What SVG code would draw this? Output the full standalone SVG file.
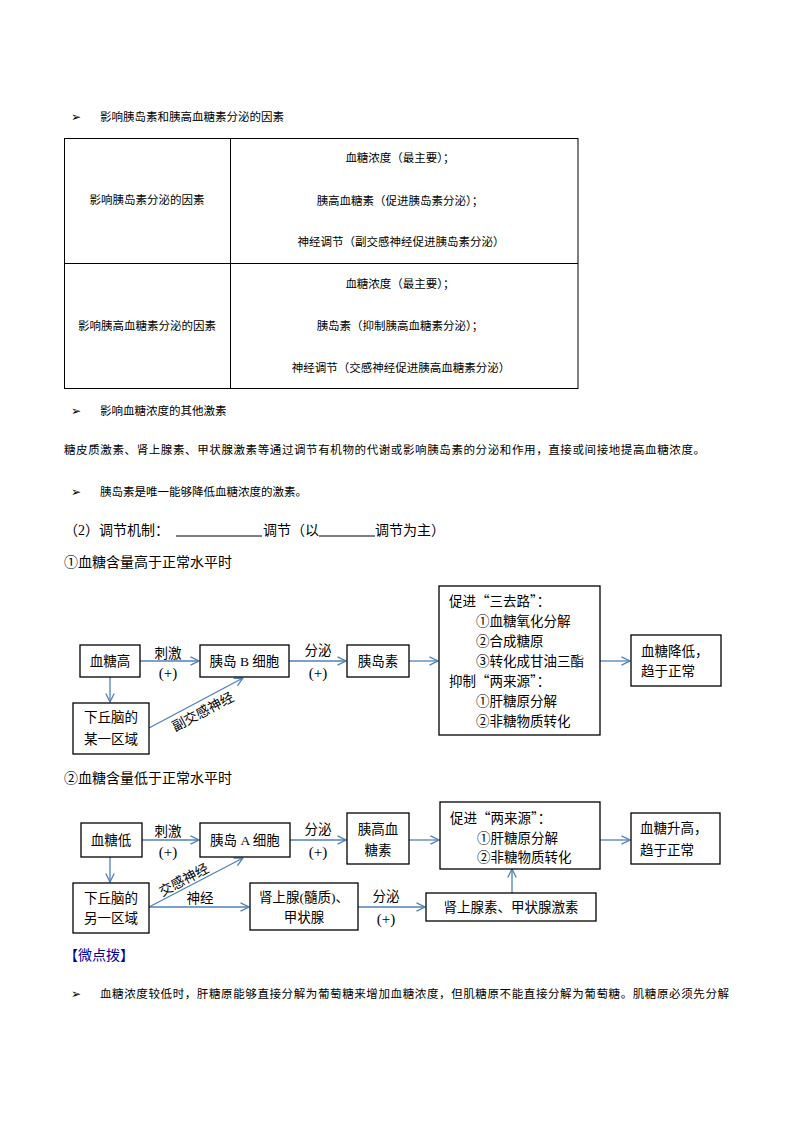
<svg xmlns="http://www.w3.org/2000/svg" width="794" height="1123" viewBox="0 0 794 1123">
<style>
.sm{font-family:"Noto Sans CJK SC","Liberation Sans",sans-serif;font-size:11.5px;fill:#000}
.bl{font-family:"DejaVu Sans",sans-serif;font-size:12px;font-weight:bold;fill:#000}
.md{font-family:"Liberation Serif","Noto Sans CJK SC",serif;font-size:14px;fill:#000}
.dg{font-family:"Liberation Serif","Noto Sans CJK SC",serif;font-size:13.5px;fill:#000}
.pl{font-family:"Liberation Serif",serif;font-size:15px;fill:#000}
.q{font-family:"Noto Sans CJK SC",sans-serif}
.c{text-anchor:middle}
.box{fill:#fff;stroke:#000;stroke-width:1.3}
.tb{fill:none;stroke:#000;stroke-width:1}
.ar{fill:none;stroke:#4F81BD;stroke-width:1.3;marker-end:url(#ah)}
</style>
<defs>
<marker id="ah" viewBox="0 0 10 10" refX="9.5" refY="5" markerWidth="10" markerHeight="10" orient="auto" markerUnits="userSpaceOnUse">
<path d="M1,0.8 L9.5,5 L1,9.2" fill="none" stroke="#4F81BD" stroke-width="1.3"/>
</marker>
</defs>
<rect width="794" height="1123" fill="#fff"/>

<!-- heading 1 -->
<text class="bl" x="71" y="121">➢</text>
<text class="sm" x="100" y="121">影响胰岛素和胰高血糖素分泌的因素</text>

<!-- table -->
<g id="table">
<rect class="tb" x="64.5" y="138.5" width="513.5" height="250"/>
<line class="tb" x1="64.5" y1="263.5" x2="578" y2="263.5"/>
<line class="tb" x1="230.5" y1="138.5" x2="230.5" y2="388.5"/>
<text class="sm c" x="147" y="204">影响胰岛素分泌的因素</text>
<text class="sm c" x="400" y="162">血糖浓度（最主要）；</text>
<text class="sm c" x="400" y="205">胰高血糖素（促进胰岛素分泌）；</text>
<text class="sm c" x="401" y="246">神经调节（副交感神经促进胰岛素分泌）</text>
<text class="sm c" x="147" y="330">影响胰高血糖素分泌的因素</text>
<text class="sm c" x="400" y="288">血糖浓度（最主要）；</text>
<text class="sm c" x="400" y="330">胰岛素（抑制胰高血糖素分泌）；</text>
<text class="sm c" x="401" y="372">神经调节（交感神经促进胰高血糖素分泌）</text>
</g>

<text class="bl" x="71" y="415">➢</text>
<text class="sm" x="100" y="415">影响血糖浓度的其他激素</text>
<text class="sm" x="64" y="454" textLength="641" lengthAdjust="spacing">糖皮质激素、肾上腺素、甲状腺激素等通过调节有机物的代谢或影响胰岛素的分泌和作用，直接或间接地提高血糖浓度。</text>
<text class="bl" x="71" y="496">➢</text>
<text class="sm" x="100" y="496">胰岛素是唯一能够降低血糖浓度的激素。</text>

<text class="md" x="64" y="535">（2）调节机制：</text>
<line x1="176" y1="536" x2="262" y2="536" stroke="#000" stroke-width="1"/>
<text class="md" x="263" y="535">调节（以</text>
<line x1="319" y1="536" x2="375" y2="536" stroke="#000" stroke-width="1"/>
<text class="md" x="375" y="535">调节为主）</text>
<text class="md" x="64" y="567">①血糖含量高于正常水平时</text>

<!-- diagram 1 connectors -->
<g id="connectors1">
<line class="ar" x1="140" y1="661" x2="199" y2="661"/>
<line class="ar" x1="289" y1="661" x2="346" y2="661"/>
<line class="ar" x1="409" y1="661" x2="438" y2="661"/>
<line class="ar" x1="600" y1="661" x2="630" y2="661"/>
<line class="ar" x1="110" y1="677" x2="110" y2="702"/>
<line class="ar" x1="149" y1="728" x2="243" y2="678"/>
<text class="dg c" x="168" y="658">刺激</text>
<text class="pl c" x="168" y="678">(+)</text>
<text class="dg c" x="318" y="655">分泌</text>
<text class="pl c" x="318" y="678">(+)</text>
<text class="dg c" transform="translate(205,716) rotate(-28)">副交感神经</text>
</g>

<g id="n-gaoxuetang">
<rect class="box" x="80" y="645" width="60" height="32"/>
<text class="dg c" x="110" y="666">血糖高</text>
</g>
<g id="n-xiaqiunao1">
<rect class="box" x="73" y="703" width="76" height="51"/>
<text class="dg c" x="111" y="722">下丘脑的</text>
<text class="dg c" x="111" y="744">某一区域</text>
</g>
<g id="n-bcell">
<rect class="box" x="200" y="645" width="89" height="32"/>
<text class="dg c" x="244.5" y="666">胰岛 B 细胞</text>
</g>
<g id="n-insulin">
<rect class="box" x="347" y="645" width="62" height="32"/>
<text class="dg c" x="378" y="666">胰岛素</text>
</g>
<g id="n-effect1">
<rect class="box" x="439" y="586" width="161" height="149"/>
<text class="dg" x="449" y="606">促进<tspan class="q">“</tspan>三去路<tspan class="q">”</tspan>：</text>
<text class="dg" x="476" y="626">①血糖氧化分解</text>
<text class="dg" x="476" y="646">②合成糖原</text>
<text class="dg" x="476" y="666">③转化成甘油三酯</text>
<text class="dg" x="449" y="686">抑制<tspan class="q">“</tspan>两来源<tspan class="q">”</tspan>：</text>
<text class="dg" x="476" y="706">①肝糖原分解</text>
<text class="dg" x="476" y="726">②非糖物质转化</text>
</g>
<g id="n-result1">
<rect class="box" x="631" y="635" width="90" height="51"/>
<text class="dg" x="641" y="656">血糖降低，</text>
<text class="dg" x="641" y="676">趋于正常</text>
</g>

<text class="md" x="64" y="783">②血糖含量低于正常水平时</text>

<!-- diagram 2 connectors -->
<g id="connectors2">
<line class="ar" x1="142" y1="840" x2="199" y2="840"/>
<line class="ar" x1="290" y1="840" x2="346" y2="840"/>
<line class="ar" x1="409" y1="840" x2="439" y2="840"/>
<line class="ar" x1="600" y1="840" x2="630" y2="840"/>
<line class="ar" x1="110" y1="857" x2="110" y2="882"/>
<line class="ar" x1="149" y1="907" x2="243" y2="858"/>
<line class="ar" x1="149" y1="907" x2="249" y2="907"/>
<line class="ar" x1="358" y1="907" x2="425" y2="907"/>
<line class="ar" x1="512" y1="893" x2="512" y2="869"/>
<text class="dg c" x="168" y="836">刺激</text>
<text class="pl c" x="168" y="857">(+)</text>
<text class="dg c" x="318" y="834">分泌</text>
<text class="pl c" x="318" y="857">(+)</text>
<text class="dg c" transform="translate(186,884) rotate(-28)">交感神经</text>
<text class="dg c" x="200" y="903">神经</text>
<text class="dg c" x="386" y="901">分泌</text>
<text class="pl c" x="386" y="924">(+)</text>
</g>

<g id="n-dixuetang">
<rect class="box" x="81" y="823" width="61" height="34"/>
<text class="dg c" x="111" y="845">血糖低</text>
</g>
<g id="n-xiaqiunao2">
<rect class="box" x="73" y="883" width="76" height="50"/>
<text class="dg c" x="111" y="903">下丘脑的</text>
<text class="dg c" x="111" y="923">另一区域</text>
</g>
<g id="n-acell">
<rect class="box" x="200" y="823" width="90" height="34"/>
<text class="dg c" x="245" y="845">胰岛 A 细胞</text>
</g>
<g id="n-glucagon">
<rect class="box" x="347" y="813" width="62" height="51"/>
<text class="dg c" x="378" y="834">胰高血</text>
<text class="dg c" x="378" y="855">糖素</text>
</g>
<g id="n-adrenal">
<rect class="box" x="250" y="883" width="108" height="47"/>
<text class="dg c" x="304" y="902">肾上腺(髓质)、</text>
<text class="dg c" x="304" y="922">甲状腺</text>
</g>
<g id="n-hormones">
<rect class="box" x="426" y="893" width="170" height="28"/>
<text class="dg c" x="511" y="912">肾上腺素、甲状腺激素</text>
</g>
<g id="n-effect2">
<rect class="box" x="440" y="802" width="160" height="67"/>
<text class="dg" x="450" y="823">促进<tspan class="q">“</tspan>两来源<tspan class="q">”</tspan>：</text>
<text class="dg" x="477" y="843">①肝糖原分解</text>
<text class="dg" x="477" y="862">②非糖物质转化</text>
</g>
<g id="n-result2">
<rect class="box" x="631" y="813" width="89" height="51"/>
<text class="dg" x="640" y="833">血糖升高，</text>
<text class="dg" x="640" y="855">趋于正常</text>
</g>

<text class="md" x="64" y="960" style="fill:#0000a0">【微点拨】</text>
<text class="bl" x="71" y="998">➢</text>
<text class="sm" x="100" y="998" textLength="629" lengthAdjust="spacing">血糖浓度较低时，肝糖原能够直接分解为葡萄糖来增加血糖浓度，但肌糖原不能直接分解为葡萄糖。肌糖原必须先分解</text>
</svg>
